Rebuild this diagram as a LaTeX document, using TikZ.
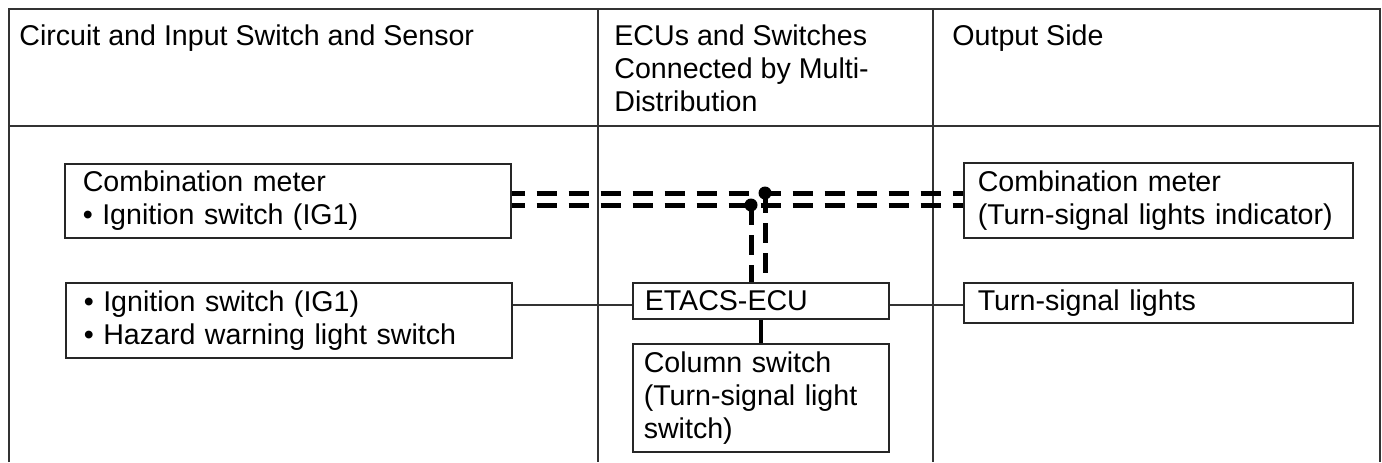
\documentclass[tikz,border=0pt]{standalone}
\usepackage{fontspec}
\setmainfont{Liberation Sans}
\begin{document}
\begin{tikzpicture}[x=0.5pt,y=-0.5pt,
  every node/.style={font=\fontsize{14.3pt}{16.5pt}\selectfont, text=black},
  box/.style={draw=black!85, line width=0.75pt, rectangle, anchor=north west, align=left, inner ysep=0pt},
  head/.style={anchor=north west, inner sep=0pt, align=left},
  grid/.style={draw=black!80, line width=0.8pt},
  conn/.style={draw=black!80, line width=0.75pt},
  bus/.style={line width=2.5pt, dash pattern=on 10pt off 6pt, dash phase=3.5pt},
  vbus/.style={line width=2.5pt, dash pattern=on 10pt off 5pt},
  dot/.style={circle, fill=black, inner sep=0pt, minimum size=6.5pt}
]
\useasboundingbox (0,0) rectangle (1382,462);
% table
\draw[grid] (9,462) -- (9,9) -- (1380,9) -- (1380,462);
\draw[grid] (9,126) -- (1380,126);
\draw[grid] (598,9) -- (598,462);
\draw[grid] (933,9) -- (933,462);
% headers
\node[head] (h1) at (19,21.9) {\strut Circuit and Input Switch and Sensor};
\node[head] (h2) at (614,21.9) {\strut ECUs and Switches\\Connected by Multi-\\Distribution};
\node[head] (h3) at (952,21.9) {\strut Output Side};
% boxes
\node[box, inner xsep=9pt, text width=205pt, minimum height=37pt] (cm1) at (64,163)
  {Combination meter\\\textbullet\ Ignition switch (IG1)};
\node[box, inner xsep=9pt, text width=205pt, minimum height=37.5pt] (sw) at (65,282)
  {\textbullet\ Ignition switch (IG1)\\\textbullet\ Hazard warning light switch};
\node[box, inner xsep=6pt, text width=116pt, minimum height=18pt] (ecu) at (632,282)
  {ETACS-ECU};
\node[box, inner xsep=5.5pt, text width=117pt, minimum height=54pt] (col) at (632,343)
  {Column switch\\(Turn-signal light\\switch)};
\node[box, inner xsep=7pt, text width=180.5pt, minimum height=37.5pt] (cm2) at (963,162)
  {Combination meter\\(Turn-signal lights indicator)};
\node[box, inner xsep=7pt, text width=180.5pt, minimum height=20pt] (tsl) at (963,282)
  {Turn-signal lights};
% multiplex bus
\coordinate (u1) at ([yshift=3.5pt]cm1.east);
\coordinate (l1) at ([yshift=-2.5pt]cm1.east);
\draw[bus] (u1) -- (u1 -| cm2.west);
\draw[bus] (l1) -- (l1 -| cm2.west);
\node[dot] (d1) at (765,193) {};
\node[dot] (d2) at (751,205) {};
\draw[vbus] (d1.center) -- (d1.center |- ecu.north);
\draw[vbus] (d2.center) -- (d2.center |- ecu.north);
% wires
\coordinate (e1) at ([yshift=-2pt]ecu.west);
\draw[conn] (e1) -- (e1 -| sw.east);
\coordinate (t1) at ([yshift=-1pt]tsl.west);
\draw[conn] (t1) -- (t1 -| ecu.east);
\draw[line width=2pt] (ecu.south) -- (col.north);
\end{tikzpicture}
\end{document}
